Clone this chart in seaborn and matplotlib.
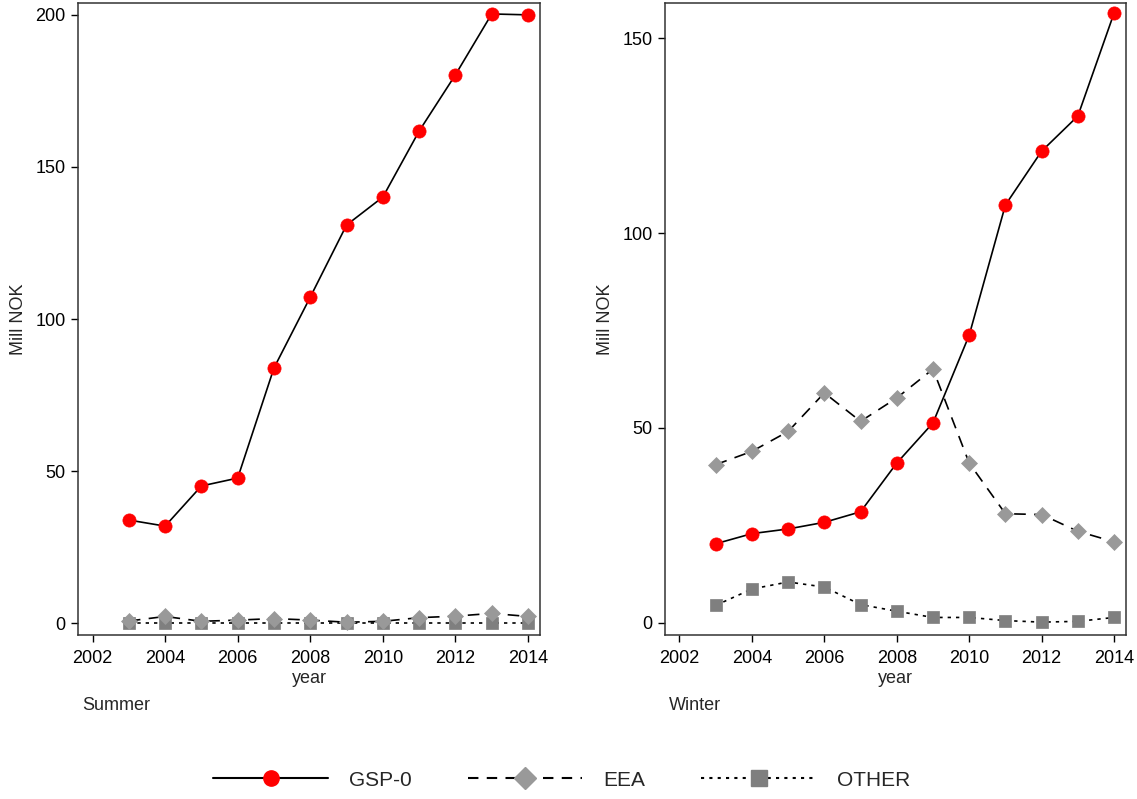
import numpy as np
import pandas as pd
import seaborn as sns
import matplotlib.pyplot as plt
from matplotlib.lines import Line2D

# Data (Mill NOK)
years = [2003, 2004, 2005, 2006, 2007, 2008, 2009, 2010, 2011, 2012, 2013, 2014]

summer_gsp = [33.9, 31.9, 45.1, 47.7, 83.9, 107.2, 130.9, 140.1, 161.8, 180.3, 200.3, 200.0]
summer_eea = [0.7, 2.2, 0.6, 1.0, 1.5, 1.0, 0.3, 0.6, 1.8, 2.3, 3.2, 2.2]
summer_other = [0.0, 0.0, 0.0, 0.0, 0.0, 0.0, 0.0, 0.0, 0.0, 0.0, 0.0, 0.0]

winter_gsp = [20.3, 22.9, 24.1, 25.8, 28.5, 41.0, 51.3, 73.8, 107.2, 121.0, 130.0, 156.4]
winter_eea = [40.6, 44.0, 49.1, 59.0, 51.7, 57.7, 65.1, 41.0, 28.0, 27.8, 23.5, 20.8]
winter_other = [4.5, 8.7, 10.5, 9.2, 4.7, 3.0, 1.4, 1.4, 0.6, 0.2, 0.4, 1.4]

series_names = ['GSP-0', 'EEA', 'OTHER']
x_ticks = [2002, 2004, 2006, 2008, 2010, 2012, 2014]

sns.set_theme(style='ticks')
plt.rcParams['font.family'] = ['Liberation Sans', 'DejaVu Sans']

styles = {
    'GSP-0': dict(color='black', linestyle='-', marker='o', mfc='#ff0000', mec='#ff0000', ms=9.5),
    'EEA': dict(color='black', linestyle=(0, (7, 5)), marker='D', mfc='#999999', mec='#999999', ms=8.5),
    'OTHER': dict(color='black', linestyle=(0, (2, 3)), marker='s', mfc='#7f7f7f', mec='#7f7f7f', ms=8.5),
}

fig = plt.figure(figsize=(11.37, 7.99), dpi=100)
ax1 = fig.add_axes([78 / 1137, 1 - 635 / 799, 462 / 1137, 632 / 799])
ax2 = fig.add_axes([665 / 1137, 1 - 635 / 799, 461 / 1137, 632 / 799])

panels = [
    (ax1, 'Summer', [summer_gsp, summer_eea, summer_other], (-3.9, 203.9), [0, 50, 100, 150, 200]),
    (ax2, 'Winter', [winter_gsp, winter_eea, winter_other], (-3.1, 159), [0, 50, 100, 150]),
]

for ax, season, vals, ylim, yticks in panels:
    df = pd.DataFrame({'year': years})
    for name, v in zip(series_names, vals):
        df[name] = v
    # draw back to front: OTHER, EEA, GSP-0
    for name in ['OTHER', 'EEA', 'GSP-0']:
        st = styles[name]
        sns.lineplot(data=df, x='year', y=name, ax=ax, color=st['color'],
                     linestyle=st['linestyle'], linewidth=1.2, marker=st['marker'],
                     markerfacecolor=st['mfc'], markeredgecolor=st['mec'],
                     markersize=st['ms'], markeredgewidth=0.5)
    ax.set_xlim(2001.6, 2014.33)
    ax.set_ylim(*ylim)
    ax.set_xticks(x_ticks)
    ax.set_yticks(yticks)
    ax.tick_params(axis='both', labelsize=13, length=5, width=1, color='black',
                   labelcolor='black', pad=4)
    ax.tick_params(axis='x', pad=6)
    ax.set_xlabel('year', fontsize=13, labelpad=2)
    ax.set_ylabel('Mill NOK', fontsize=13, labelpad=6)
    for sp in ax.spines.values():
        sp.set_visible(True)
        sp.set_color('#333333')
        sp.set_linewidth(1.1)
    ax.grid(False)
    bbox = ax.get_position()
    fig.text(bbox.x0 + 4 / 1137, 1 - 706 / 799, season, fontsize=13, va='center', ha='left')

handles = [
    Line2D([], [], color='black', linestyle='-', linewidth=1.5, marker='o',
           mfc='#ff0000', mec='#ff0000', ms=11),
    Line2D([], [], color='black', linestyle=(0, (5, 4)), linewidth=1.5, marker='D',
           mfc='#999999', mec='#999999', ms=11),
    Line2D([], [], color='black', linestyle=(0, (1.5, 2.5)), linewidth=1.5, marker='s',
           mfc='#7f7f7f', mec='#7f7f7f', ms=11),
]
fig.legend(handles, series_names, loc='center', bbox_to_anchor=(0.494, 1 - 780 / 799),
           ncol=3, frameon=False, fontsize=15, handlelength=5.5, columnspacing=2.7,
           handletextpad=1.0, markerscale=1.0)

fig.savefig('out.png', dpi=100)
